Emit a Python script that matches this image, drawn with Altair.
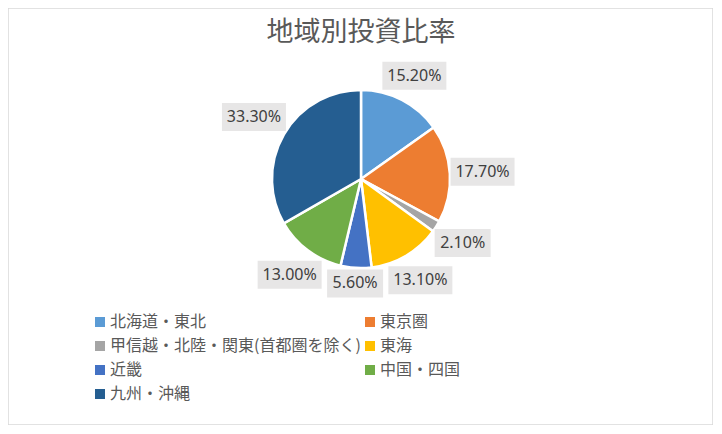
import altair as alt
import pandas as pd

regions = ["北海道・東北", "東京圏", "甲信越・北陸・関東(首都圏を除く)", "東海", "近畿", "中国・四国", "九州・沖縄"]
shares = [15.2, 17.7, 2.1, 13.1, 5.6, 13.0, 33.3]
colors = ["#5B9BD5", "#ED7D31", "#A5A5A5", "#FFC000", "#4472C4", "#70AD47", "#255E91"]
title_text = "地域別投資比率"

W, H = 705, 417
CX, CY, R = 353, 171, 89

df = pd.DataFrame({"region": regions, "value": shares, "order": list(range(len(regions)))})

# legend is laid out column by column: reorder so it reads row by row (2 columns)
n = len(regions)
leg_idx = [i for i in range(0, n, 2)] + [i for i in range(1, n, 2)]
leg_domain = [regions[i] for i in leg_idx]
leg_range = [colors[i] for i in leg_idx]

base = alt.Chart(df)

xs = alt.Scale(domain=[0, W], range=[0, W])
ys = alt.Scale(domain=[0, H], reverse=True)

pie = base.mark_arc(outerRadius=R, x=CX, y=CY, stroke="white", strokeWidth=2.5).encode(
    theta=alt.Theta("value:Q", stack=True),
    order=alt.Order("order:Q"),
    color=alt.Color("region:N", scale=alt.Scale(domain=leg_domain, range=leg_range),
                    legend=alt.Legend(title=None, orient="none", legendX=84, legendY=306,
                                      columns=2, symbolType="square", symbolSize=100,
                                      symbolStrokeWidth=0, labelFontSize=16,
                                      labelFont="Noto Sans CJK JP", labelColor="#595959",
                                      rowPadding=8, columnPadding=1, labelOffset=2,
                                      padding=0, labelLimit=400)),
)

lab = base.transform_joinaggregate(total="sum(value)").transform_window(
    cum="sum(value)", sort=[alt.SortField("order")]
).transform_calculate(
    ang="(datum.cum - datum.value/2) / datum.total * 2 * PI",
    label="format(datum.value, '.2f') + '%'",
).transform_calculate(
    hw="length(datum.label) * 4 + 8",
).transform_calculate(
    d=f"{R} + abs(sin(datum.ang)) * datum.hw + abs(cos(datum.ang)) * 14",
).transform_calculate(
    lx=f"{CX} + datum.d * sin(datum.ang)",
    ly=f"{CY} - datum.d * cos(datum.ang)",
).transform_calculate(
    x0="datum.lx - datum.hw", x1="datum.lx + datum.hw",
    y0="datum.ly - 14", y1="datum.ly + 14",
)

boxes = lab.mark_rect(color="#E7E6E6").encode(
    x=alt.X("x0:Q", scale=xs, axis=None), x2="x1:Q",
    y=alt.Y("y0:Q", scale=ys, axis=None), y2="y1:Q",
)
texts = lab.mark_text(font="Noto Sans", fontSize=16, color="#404040", baseline="middle").encode(
    x=alt.X("lx:Q", scale=xs, axis=None),
    y=alt.Y("ly:Q", scale=ys, axis=None),
    text="label:N",
)

title = alt.Chart(alt.Data(values=[{"t": title_text}])).mark_text(
    font="Noto Sans CJK JP", fontSize=27, color="#595959", baseline="middle"
).encode(x=alt.value(353), y=alt.value(25), text="t:N")

chart = alt.layer(pie, boxes, texts, title).properties(
    width=W, height=H, autosize=alt.AutoSizeParams(type="none"), padding=0
).configure_view(stroke="#D9D9D9", strokeWidth=1.5)

chart.save("out.html", embed_options={"renderer": "svg", "actions": False})
